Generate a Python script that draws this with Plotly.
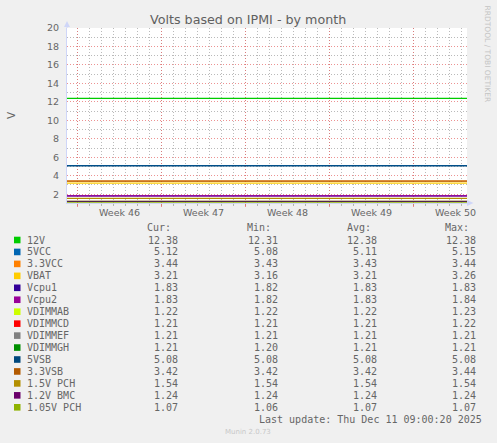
import plotly.graph_objects as go
import pandas as pd

# ---------------- data ----------------
names = ["12V", "5VCC", "3.3VCC", "VBAT", "Vcpu1", "Vcpu2", "VDIMMAB", "VDIMMCD",
         "VDIMMEF", "VDIMMGH", "5VSB", "3.3VSB", "1.5V PCH", "1.2V BMC", "1.05V PCH"]
colors = ["#00CC00", "#0066B3", "#FF8000", "#FFCC00", "#330099", "#990099", "#CCFF00",
          "#FF0000", "#808080", "#008F00", "#00487D", "#B35A00", "#B38F00", "#6B006B", "#8FB300"]
cur_vals = [12.38, 5.12, 3.44, 3.21, 1.83, 1.83, 1.22, 1.21, 1.21, 1.21, 5.08, 3.42, 1.54, 1.24, 1.07]
min_vals = [12.31, 5.08, 3.43, 3.16, 1.82, 1.82, 1.22, 1.21, 1.21, 1.20, 5.08, 3.42, 1.54, 1.24, 1.06]
avg_vals = [12.38, 5.11, 3.43, 3.21, 1.83, 1.83, 1.22, 1.21, 1.21, 1.21, 5.08, 3.42, 1.54, 1.24, 1.07]
max_vals = [12.38, 5.15, 3.44, 3.26, 1.83, 1.84, 1.23, 1.22, 1.21, 1.21, 5.08, 3.44, 1.54, 1.24, 1.07]

times = ["2025-11-08 00:00", "2025-11-25 06:00", "2025-11-25 09:00",
         "2025-11-25 12:00", "2025-12-11 12:00"]
v_12v = [12.38, 12.38, 12.38, 12.38, 12.38]
v_5vcc = [5.11, 5.11, 5.11, 5.11, 5.11]
v_33vcc = [3.43, 3.43, 3.43, 3.43, 3.43]
v_vbat = [3.21, 3.21, 3.26, 3.21, 3.21]
v_vcpu1 = [1.83, 1.83, 1.83, 1.83, 1.83]
v_vcpu2 = [1.83, 1.83, 1.83, 1.83, 1.83]
v_vdimmab = [1.22, 1.22, 1.22, 1.22, 1.22]
v_vdimmcd = [1.21, 1.21, 1.21, 1.21, 1.21]
v_vdimmef = [1.21, 1.21, 1.21, 1.21, 1.21]
v_vdimmgh = [1.21, 1.21, 1.21, 1.21, 1.21]
v_5vsb = [5.08, 5.08, 5.08, 5.08, 5.08]
v_33vsb = [3.42, 3.42, 3.42, 3.42, 3.42]
v_15pch = [1.54, 1.54, 1.54, 1.54, 1.54]
v_12bmc = [1.24, 1.24, 1.24, 1.24, 1.24]
v_105pch = [1.07, 1.07, 1.07, 1.07, 1.07]
series_list = [v_12v, v_5vcc, v_33vcc, v_vbat, v_vcpu1, v_vcpu2, v_vdimmab, v_vdimmcd,
               v_vdimmef, v_vdimmgh, v_5vsb, v_33vsb, v_15pch, v_12bmc, v_105pch]

week_labels = ["Week 46", "Week 47", "Week 48", "Week 49", "Week 50"]
week_label_times = ["2025-11-12 12:00", "2025-11-19 12:00", "2025-11-26 12:00",
                    "2025-12-03 12:00", "2025-12-10 12:00"]
week_starts = ["2025-11-09", "2025-11-16", "2025-11-23", "2025-11-30", "2025-12-07"]
x_range = ["2025-11-08 02:40", "2025-12-11 10:40"]
y_range = [1.05, 20]

title_text = "Volts based on IPMI - by month"
last_update = "Last update: Thu Dec 11 09:00:20 2025"
munin_version = "Munin 2.0.73"

# ---------------- layout helpers ----------------
W, H = 497, 443
L, R, T, B = 67, 467, 28, 203


def px2x(px):
    return (px - L) / (R - L)


def py2y(py):
    return (B - py) / (B - T)


FONT = "DejaVu Sans"
MONO = "DejaVu Sans Mono"
TXT = "#666666"
AXIS = "#CFD6F8"
MGRID = "rgba(230,100,100,0.7)"
GRID = "rgba(140,140,140,0.6)"
DOTS = "1px,2px"

day_ticks = [d.strftime("%Y-%m-%d") for d in pd.date_range("2025-11-08", "2025-12-12", freq="D")]

fig = go.Figure()
for name, col, vals in zip(names, colors, series_list):
    fig.add_trace(go.Scatter(x=times, y=vals, mode="lines", name=name,
                             line=dict(color=col, width=1.2), showlegend=False,
                             hoverinfo="skip"))

annotations = []
shapes = []

annotations.append(dict(text=title_text, xref="paper", yref="paper", x=px2x(248),
                        y=py2y(19), xanchor="center", yanchor="middle", showarrow=False,
                        font=dict(family=FONT, size=12.7, color="#606060")))
annotations.append(dict(text="V", xref="paper", yref="paper", x=px2x(11), y=py2y(115),
                        xanchor="center", yanchor="middle", showarrow=False, textangle=-90,
                        font=dict(family=FONT, size=10.5, color=TXT)))
annotations.append(dict(text="RRDTOOL / TOBI OETIKER", xref="paper", yref="paper",
                        x=px2x(487), y=py2y(53.5), xanchor="center", yanchor="middle",
                        showarrow=False, textangle=90,
                        font=dict(family=FONT, size=7.5, color="#C4C4C4")))
for t, lab in zip(week_label_times, week_labels):
    annotations.append(dict(text=lab, xref="x", yref="paper", x=t, y=py2y(212.3),
                            xanchor="center", yanchor="middle", showarrow=False,
                            font=dict(family=FONT, size=9.5, color=TXT)))

col_right = [179, 278.7, 377.7, 476.7]
head_right = [172.3, 272, 371.7, 470]
for hx, htxt in zip(head_right, ["Cur:", "Min:", "Avg:", "Max:"]):
    annotations.append(dict(text=htxt, xref="paper", yref="paper", x=px2x(hx),
                            y=py2y(227.7), xanchor="right", yanchor="middle",
                            showarrow=False, borderpad=0,
                            font=dict(family=MONO, size=10, color=TXT)))

row0, row_step = 240.0, 11.95
for i, (name, col) in enumerate(zip(names, colors)):
    yc = row0 + row_step * i
    shapes.append(dict(type="rect", xref="paper", yref="paper",
                       x0=px2x(14), x1=px2x(20.5), y0=py2y(yc - 3.3), y1=py2y(yc + 3.3),
                       fillcolor=col, line=dict(width=0)))
    annotations.append(dict(text=name, xref="paper", yref="paper", x=px2x(26),
                            y=py2y(yc), xanchor="left", yanchor="middle",
                            showarrow=False, borderpad=0,
                            font=dict(family=MONO, size=10, color=TXT)))
    for cx, v in zip(col_right, [cur_vals[i], min_vals[i], avg_vals[i], max_vals[i]]):
        annotations.append(dict(text=f"{v:.2f}", xref="paper", yref="paper", x=px2x(cx),
                                y=py2y(yc), xanchor="right", yanchor="middle",
                                showarrow=False, borderpad=0,
                                font=dict(family=MONO, size=10, color=TXT)))

annotations.append(dict(text=last_update, xref="paper", yref="paper", x=px2x(483),
                        y=py2y(419.3), xanchor="right", yanchor="middle", showarrow=False,
                        borderpad=0, font=dict(family=MONO, size=10, color=TXT)))
annotations.append(dict(text=munin_version, xref="paper", yref="paper", x=px2x(248),
                        y=py2y(432), xanchor="center", yanchor="middle", showarrow=False,
                        font=dict(family=FONT, size=7, color="#C8C8C8")))

# axis arrows
shapes.append(dict(type="path", xref="paper", yref="paper",
                   path=f"M {px2x(64)},{py2y(27)} L {px2x(67)},{py2y(21)} L {px2x(70)},{py2y(27)} Z",
                   fillcolor=AXIS, line=dict(width=0)))
shapes.append(dict(type="line", xref="paper", yref="paper", x0=px2x(67), x1=px2x(67),
                   y0=py2y(28), y1=py2y(25), line=dict(color=AXIS, width=1)))
shapes.append(dict(type="path", xref="paper", yref="paper",
                   path=f"M {px2x(467)},{py2y(200)} L {px2x(473.5)},{py2y(203)} L {px2x(467)},{py2y(206)} Z",
                   fillcolor=AXIS, line=dict(width=0)))

fig.update_layout(
    width=W, height=H,
    margin=dict(l=L, r=W - R, t=T, b=H - B, pad=0),
    paper_bgcolor="#F0F0F0", plot_bgcolor="#FFFFFF",
    showlegend=False, hovermode=False, dragmode=False,
    annotations=annotations, shapes=shapes,
    xaxis=dict(type="date", range=x_range, tickmode="array", tickvals=week_starts,
               showticklabels=False, showgrid=True,
               gridcolor=MGRID, griddash=DOTS, gridwidth=1,
               ticks="outside", ticklen=3, tickcolor=MGRID,
               showline=True, linecolor=AXIS, linewidth=1, zeroline=False,
               minor=dict(tickmode="array", tickvals=day_ticks, showgrid=True,
                          gridcolor=GRID, griddash=DOTS, gridwidth=1,
                          ticks="outside", ticklen=2, tickcolor=GRID)),
    yaxis=dict(range=y_range, tickmode="linear", tick0=0, dtick=2, showgrid=True,
               gridcolor=MGRID, griddash=DOTS, gridwidth=1,
               ticks="outside", ticklen=5, tickcolor="rgba(0,0,0,0)",
               tickfont=dict(family=FONT, size=9.5, color=TXT),
               showline=True, linecolor=AXIS, linewidth=1, zeroline=False,
               minor=dict(tick0=0, dtick=1, showgrid=True,
                          gridcolor=GRID, griddash=DOTS, gridwidth=1)),
)

fig.write_html("out.html", config={"displayModeBar": False, "staticPlot": True},
               post_script="document.body.style.margin='0px';")
